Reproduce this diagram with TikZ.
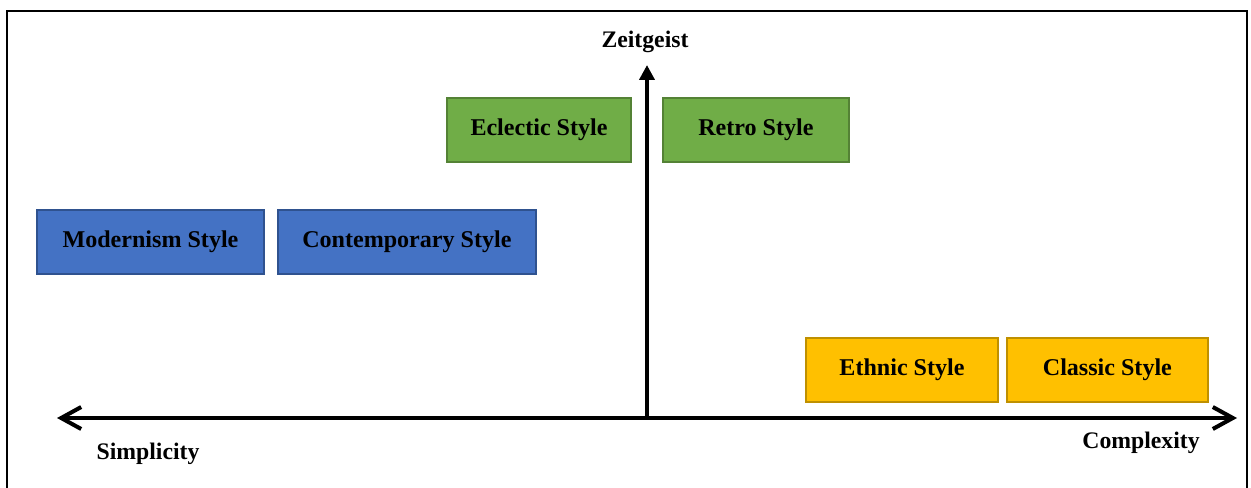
\documentclass[tikz,border=0pt]{standalone}
\usepackage{fontspec}
\setmainfont{Liberation Serif}
\usetikzlibrary{positioning, arrows.meta}
\definecolor{greenfill}{HTML}{70AD47}
\definecolor{greenline}{HTML}{548235}
\definecolor{bluefill}{HTML}{4472C4}
\definecolor{blueline}{HTML}{2F528F}
\definecolor{goldfill}{HTML}{FFC000}
\definecolor{goldline}{HTML}{BF9000}
\tikzset{
	stylebox/.style={
		rectangle,
		line width=1.1pt,
		minimum height=1.28cm,
		inner sep=0pt,
		font=\fontsize{13.7}{16}\selectfont\bfseries
	},
	greenbox/.style={stylebox, fill=greenfill, draw=greenline},
	bluebox/.style={stylebox, fill=bluefill, draw=blueline},
	goldbox/.style={stylebox, fill=goldfill, draw=goldline},
	axislabel/.style={font=\fontsize{13.5}{16}\selectfont\bfseries},
	axis/.style={line width=2.3pt}
}

\begin{document}
\begin{tikzpicture}[x=0.02cm, y=-0.02cm]
	\useasboundingbox (0,0) rectangle (1251,487);
	\clip (0,0) rectangle (1251,487);
	\draw[line width=1.2pt] (7,500) -- (7,11) -- (1247,11) -- (1247,500);

	% axes
	\coordinate (west) at (57,418);
	\coordinate (east) at (1237,418);
	\coordinate (origin) at (647,418);
	\coordinate (top) at (647,65);
	\draw[axis, {Straight Barb[length=4mm, width=4.4mm]}-{Straight Barb[length=4mm, width=4.4mm]}] (west) -- (east);
	\draw[axis, -{Triangle[length=3mm, width=3mm]}] (origin) -- (top);

	\node[axislabel] (zeit) at (645,42) {Zeitgeist};
	\node[axislabel] (simp) at (148,454) {Simplicity};
	\node[axislabel] (comp) at (1141,443) {Complexity};

	% boxes
	\node[greenbox, minimum width=3.68cm] (eclectic) at (539,130) {Eclectic Style};
	\node[greenbox, minimum width=3.72cm, right = 0.6cm of eclectic] (retro) {Retro Style};

	\node[bluebox, minimum width=4.54cm] (modern) at (150.5,242) {Modernism Style};
	\node[bluebox, minimum width=5.16cm, right = 0.24cm of modern] (contemp) {Contemporary Style};

	\node[goldbox, minimum width=3.84cm] (ethnic) at (902,370) {Ethnic Style};
	\node[goldbox, minimum width=4.02cm, right = 0.14cm of ethnic] (classic) {Classic Style};
\end{tikzpicture}
\end{document}
